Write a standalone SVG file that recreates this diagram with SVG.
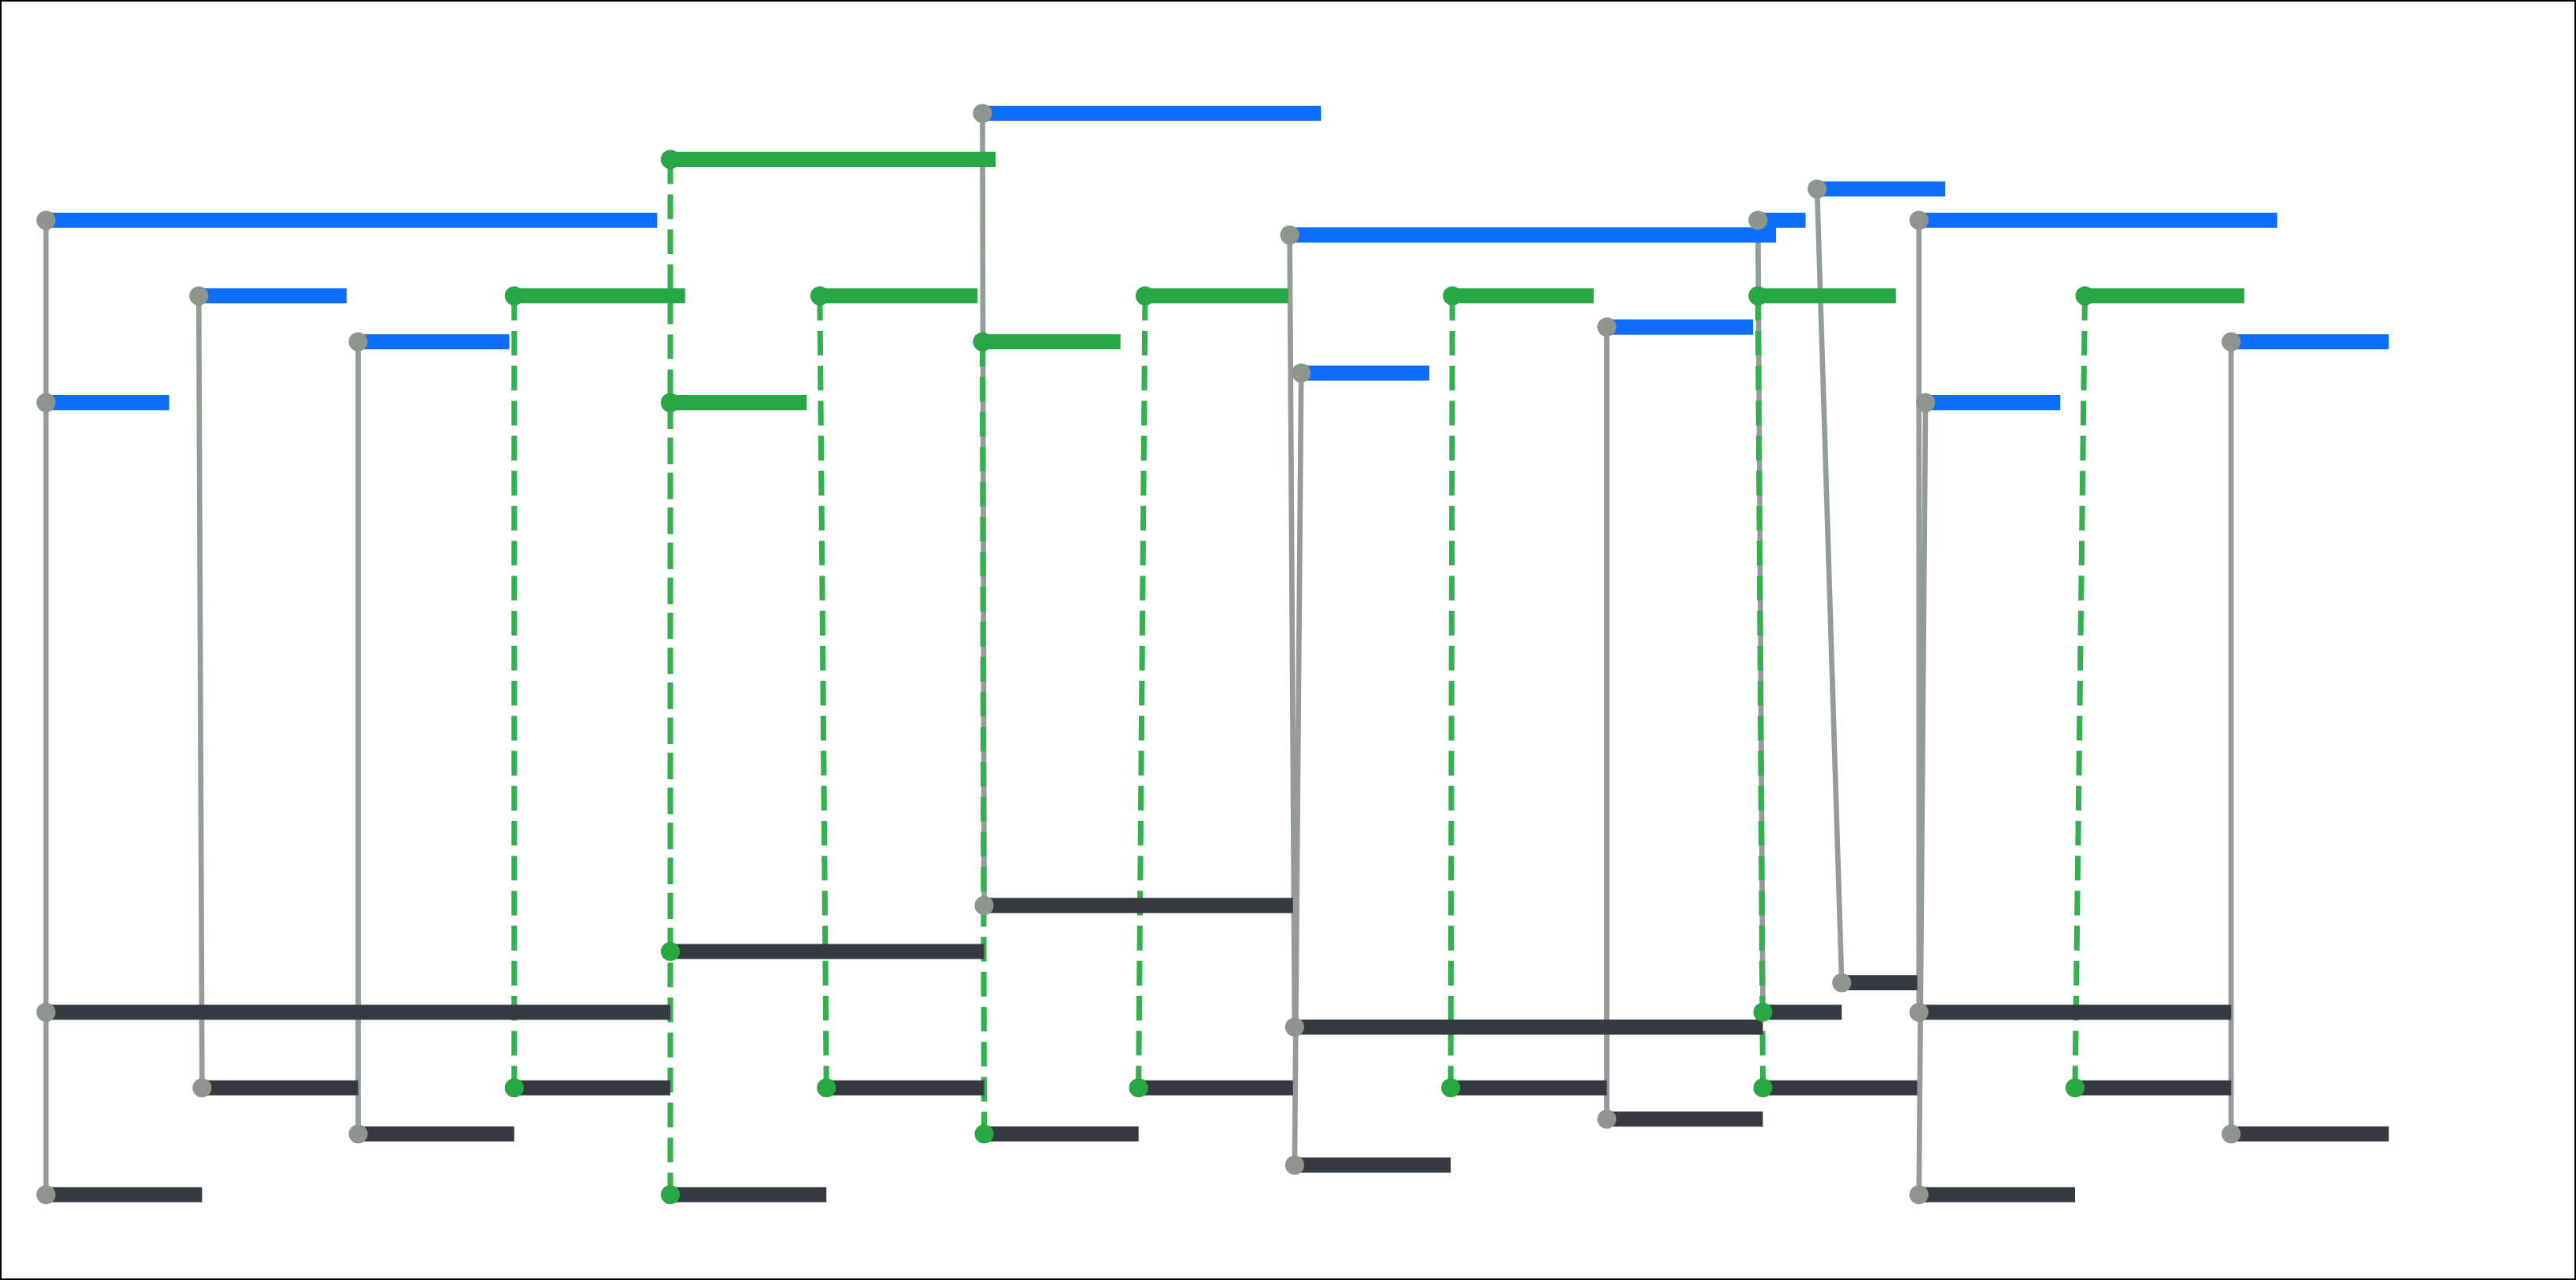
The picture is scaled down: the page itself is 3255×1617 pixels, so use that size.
<svg xmlns="http://www.w3.org/2000/svg" width="3255" height="1617" viewBox="0 0 3255 1617">
<style>
.b{stroke:#0d6efd;stroke-width:9.2}
.g{stroke:#28a745;stroke-width:9.2}
.d{stroke:#343a40;stroke-width:9.2}
.c{stroke:#959c96;stroke-width:3.2;fill:none}
.e{stroke:#34b050;stroke-width:3.4;stroke-dasharray:15 6.3;fill:none}
.n{fill:#8e958f}
.m{fill:#28a745}
</style>
<rect x="1" y="1" width="3253" height="1615" fill="#fff" stroke="#000" stroke-width="2"/>
<g transform="scale(2.076)">
<g id="connectors">
<path class="c" d="M28,134V616M28,245V727M121,180L123,662M218,208V690M598,69L599,551M785,143L788,625M792,227L788,709M978,199V681M1070,134L1073,616M1106,115L1121,598M1168,134V616M1172,245L1168,727M1358,208V690"/>
<path class="e" d="M313,180V662M408,97V579M408,245V727M499,180L503,662M598,208L599,690M697,180L693,662M884,180L883,662M1070,180L1073,662M1269,180L1263,662"/>
</g>
<g id="top-blue">
<path class="b" d="M28,134H400M28,245H103M121,180H211M218,208H310M598,69H804M785,143H1081M792,227H870M978,199H1067M1070,134H1099M1106,115H1184M1168,134H1386M1172,245H1254M1358,208H1454"/>
</g>
<g id="top-green">
<path class="g" d="M408,97H606M408,245H491M313,180H417M499,180H595M598,208H682M697,180H784M884,180H970M1070,180H1154M1269,180H1366"/>
</g>
<g id="bottom-dark">
<path class="d" d="M28,616H408M28,727H123M123,662H218M218,690H313M313,662H408M408,579H599M408,727H503M503,662H599M599,551H787M599,690H693M693,662H787M788,625H1073M788,709H883M883,662H978M978,681H1073M1073,616H1121M1073,662H1167M1121,598H1167M1168,616H1358M1168,727H1263M1263,662H1358M1358,690H1454"/>
</g>
<g id="nodes-gray" class="n">
<circle cx="28" cy="134" r="5.8"/><circle cx="28" cy="245" r="5.8"/><circle cx="121" cy="180" r="5.8"/><circle cx="218" cy="208" r="5.8"/><circle cx="598" cy="69" r="5.8"/><circle cx="785" cy="143" r="5.8"/><circle cx="792" cy="227" r="5.8"/><circle cx="978" cy="199" r="5.8"/><circle cx="1070" cy="134" r="5.8"/><circle cx="1106" cy="115" r="5.8"/><circle cx="1168" cy="134" r="5.8"/><circle cx="1172" cy="245" r="5.8"/><circle cx="1358" cy="208" r="5.8"/>
<circle cx="28" cy="616" r="5.8"/><circle cx="28" cy="727" r="5.8"/><circle cx="123" cy="662" r="5.8"/><circle cx="218" cy="690" r="5.8"/><circle cx="599" cy="551" r="5.8"/><circle cx="788" cy="625" r="5.8"/><circle cx="788" cy="709" r="5.8"/><circle cx="978" cy="681" r="5.8"/><circle cx="1121" cy="598" r="5.8"/><circle cx="1168" cy="616" r="5.8"/><circle cx="1168" cy="727" r="5.8"/><circle cx="1358" cy="690" r="5.8"/>
</g>
<g id="nodes-green" class="m">
<circle cx="408" cy="97" r="5.8"/><circle cx="408" cy="245" r="5.8"/><circle cx="313" cy="180" r="5.8"/><circle cx="499" cy="180" r="5.8"/><circle cx="598" cy="208" r="5.8"/><circle cx="697" cy="180" r="5.8"/><circle cx="884" cy="180" r="5.8"/><circle cx="1070" cy="180" r="5.8"/><circle cx="1269" cy="180" r="5.8"/>
<circle cx="313" cy="662" r="5.8"/><circle cx="408" cy="579" r="5.8"/><circle cx="408" cy="727" r="5.8"/><circle cx="503" cy="662" r="5.8"/><circle cx="599" cy="690" r="5.8"/><circle cx="693" cy="662" r="5.8"/><circle cx="883" cy="662" r="5.8"/><circle cx="1073" cy="616" r="5.8"/><circle cx="1073" cy="662" r="5.8"/><circle cx="1263" cy="662" r="5.8"/>
</g>
</g>
</svg>
